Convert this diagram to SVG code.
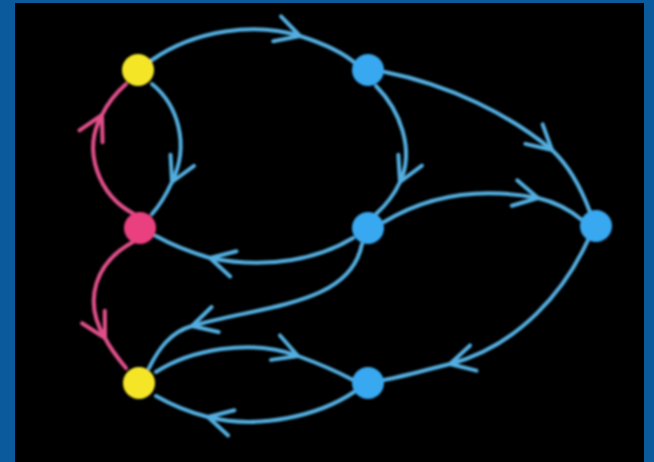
<svg xmlns="http://www.w3.org/2000/svg" width="654" height="462" viewBox="0 0 654 462">
  <defs>
    <style>
      .e { fill: none; stroke: #52aee0; stroke-width: 4; stroke-linecap: round; }
      .p { fill: none; stroke: #e0508a; stroke-width: 4; stroke-linecap: round; }
      .nb { fill: #38a8f0; }
      .ny { fill: #f4e628; }
      .np { fill: #ea3f80; }
    </style>
    <marker id="cb" markerUnits="userSpaceOnUse" markerWidth="40" markerHeight="40" refX="0" refY="0" viewBox="-30 -20 35 40" orient="auto" overflow="visible">
      <path d="M-24,-13 L0,0 L-24,13" fill="none" stroke="#52aee0" stroke-width="4" stroke-linecap="round" stroke-linejoin="round"/>
    </marker>
    <marker id="cp" markerUnits="userSpaceOnUse" markerWidth="40" markerHeight="40" refX="0" refY="0" viewBox="-30 -20 35 40" orient="auto" overflow="visible">
      <path d="M-24,-13 L0,0 L-24,13" fill="none" stroke="#e0508a" stroke-width="4" stroke-linecap="round" stroke-linejoin="round"/>
    </marker>
    <filter id="soft" x="-5%" y="-5%" width="110%" height="110%">
      <feGaussianBlur stdDeviation="1"/>
    </filter>
  </defs>
  <rect x="0" y="0" width="654" height="462" fill="#0b5a9c"/>
  <rect x="15" y="3" width="629" height="459" fill="#000000"/>
  <g filter="url(#soft)">
    <g id="connectors">
      <path class="e" marker-mid="url(#cb)" d="M152,60 C195,30 255,22 300,36 C325,44 345,54 356,64"/>
      <path class="e" marker-mid="url(#cb)" d="M152,84 C178,105 190,145 172,182 C166,195 160,205 152,214"/>
      <path class="p" marker-mid="url(#cp)" d="M134,214 C98,195 82,150 102,115 C108,102 116,93 126,84"/>
      <path class="e" marker-mid="url(#cb)" d="M376,86 C400,110 415,150 400,182 C394,195 386,205 376,214"/>
      <path class="e" marker-mid="url(#cb)" d="M385,72 C450,85 510,115 552,150 C568,165 580,185 590,212"/>
      <path class="e" marker-mid="url(#cb)" d="M384,222 C420,200 470,185 538,198 C555,202 570,210 582,220"/>
      <path class="e" marker-mid="url(#cb)" d="M353,238 C320,258 270,270 210,258 C190,252 172,245 156,236"/>
      <path class="e" marker-mid="url(#cb)" d="M362,244 C350,305 265,305 192,326 C170,332 158,350 149,368"/>
      <path class="p" marker-mid="url(#cp)" d="M133,242 C96,262 82,300 105,338 C110,348 116,356 126,368"/>
      <path class="e" marker-mid="url(#cb)" d="M156,372 C190,350 250,338 298,356 C320,364 338,372 353,380"/>
      <path class="e" marker-mid="url(#cb)" d="M354,392 C320,415 260,430 208,417 C188,412 170,404 156,396"/>
      <path class="e" marker-mid="url(#cb)" d="M588,240 C565,290 520,345 450,364 C425,370 405,376 384,380"/>
    </g>
    <g id="n-yellow-top"><circle class="ny" cx="138" cy="70" r="16"/></g>
    <g id="n-blue-top"><circle class="nb" cx="368" cy="70" r="16"/></g>
    <g id="n-pink"><circle class="np" cx="140" cy="228" r="16"/></g>
    <g id="n-blue-mid"><circle class="nb" cx="368" cy="228" r="16"/></g>
    <g id="n-blue-right"><circle class="nb" cx="596" cy="226" r="16"/></g>
    <g id="n-yellow-bottom"><circle class="ny" cx="139" cy="383" r="16"/></g>
    <g id="n-blue-bottom"><circle class="nb" cx="368" cy="383" r="16"/></g>
  </g>
</svg>
